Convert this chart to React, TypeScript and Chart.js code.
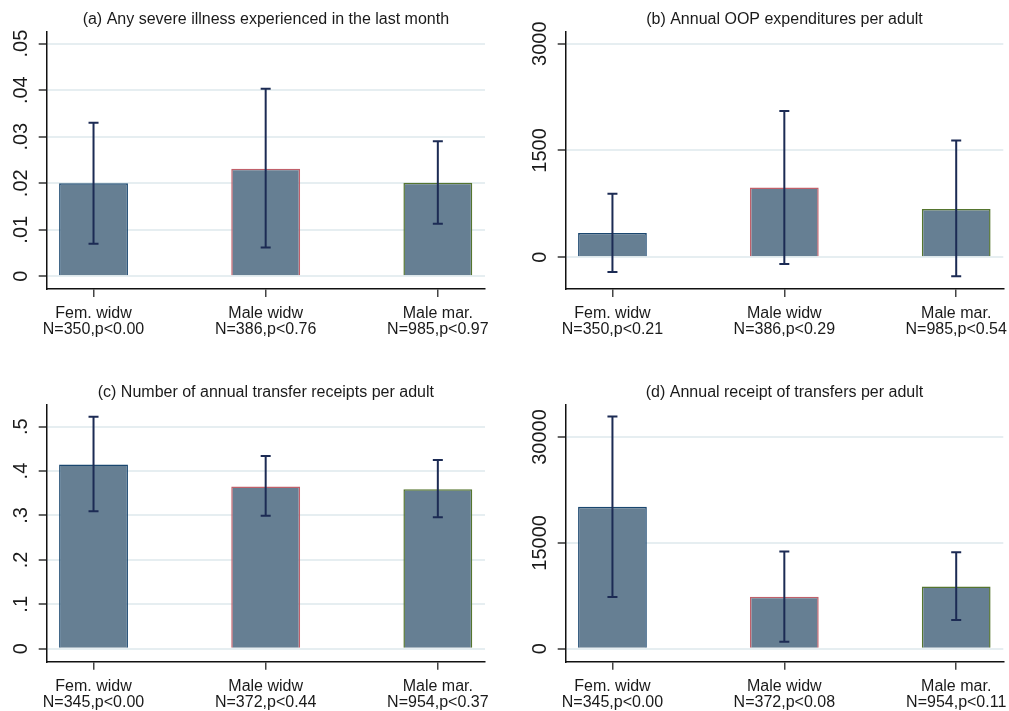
import React, { useEffect, useRef } from 'react';
import { Chart, registerables } from 'chart.js';

Chart.register(...registerables);

const FONT = "'Liberation Sans', Arial, sans-serif";

// ---------- data ----------
const CATEGORIES = ['Fem. widw', 'Male widw', 'Male mar.'];

const A_TITLE = '(a) Any severe illness experienced in the last month';
const A_NLABELS = ['N=350,p<0.00', 'N=386,p<0.76', 'N=985,p<0.97'];
const A_MEAN = [0.02, 0.0231, 0.0201];
const A_LO = [0.007, 0.0062, 0.0113];
const A_HI = [0.033, 0.0403, 0.029];
const A_TICKS = [0, 0.01, 0.02, 0.03, 0.04, 0.05];
const A_TICK_LABELS = ['0', '.01', '.02', '.03', '.04', '.05'];
const A_RANGE = [-0.00273, 0.0525];

const B_TITLE = '(b) Annual OOP expenditures per adult';
const B_NLABELS = ['N=350,p<0.21', 'N=386,p<0.29', 'N=985,p<0.54'];
const B_MEAN = [341, 981, 677];
const B_LO = [-206, -94, -266];
const B_HI = [892, 2055, 1640];
const B_TICKS = [0, 1500, 3000];
const B_TICK_LABELS = ['0', '1500', '3000'];
const B_RANGE = [-445, 3164];

const C_TITLE = '(c) Number of annual transfer receipts per adult';
const C_NLABELS = ['N=345,p<0.00', 'N=372,p<0.44', 'N=954,p<0.37'];
const C_MEAN = [0.415, 0.365, 0.359];
const C_LO = [0.3095, 0.2995, 0.296];
const C_HI = [0.5225, 0.434, 0.425];
const C_TICKS = [0, 0.1, 0.2, 0.3, 0.4, 0.5];
const C_TICK_LABELS = ['0', '.1', '.2', '.3', '.4', '.5'];
const C_RANGE = [-0.0293, 0.5504];

const D_TITLE = '(d) Annual receipt of transfers per adult';
const D_NLABELS = ['N=345,p<0.00', 'N=372,p<0.08', 'N=954,p<0.11'];
const D_MEAN = [20107, 7379, 8798];
const D_LO = [7336, 993, 4073];
const D_HI = [32921, 13764, 13679];
const D_TICKS = [0, 15000, 30000];
const D_TICK_LABELS = ['0', '15000', '30000'];
const D_RANGE = [-1845, 34640];

// ---------- styles ----------
const BAR_FILL = '#667f93';
const BAR_BORDERS = ['#1a476f', '#c0606a', '#55752f'];
const ERR_COLOR = '#1c2b54';
const GRID_COLOR = '#e6eef1';

type Spec = {
  title: string;
  nlabels: string[];
  mean: number[];
  lo: number[];
  hi: number[];
  ticks: number[];
  tickLabels: string[];
  range: number[];
  box: { left: number; top: number; width: number; height: number };
  area: { left: number; right: number; top: number; bottom: number };
  titleY: number;
};

const X_AXIS_H = 50;

function makePanel(spec: Spec) {
  const { box, area } = spec;
  const errorBars = {
    id: 'errorBars',
    afterDatasetsDraw(chart: any) {
      const ctx = chart.ctx;
      const xs = chart.scales.x;
      const ys = chart.scales.y;
      ctx.save();
      ctx.strokeStyle = ERR_COLOR;
      ctx.lineWidth = 2;
      spec.lo.forEach((lo, i) => {
        const x = xs.getPixelForValue(i);
        const y1 = ys.getPixelForValue(lo);
        const y2 = ys.getPixelForValue(spec.hi[i]);
        ctx.beginPath();
        ctx.moveTo(x, y1);
        ctx.lineTo(x, y2);
        ctx.moveTo(x - 5, y1);
        ctx.lineTo(x + 5, y1);
        ctx.moveTo(x - 5, y2);
        ctx.lineTo(x + 5, y2);
        ctx.stroke();
      });
      ctx.restore();
    },
  };
  const texts = {
    id: 'texts',
    afterDraw(chart: any) {
      const ctx = chart.ctx;
      const ca = chart.chartArea;
      const ys = chart.scales.y;
      ctx.save();
      ctx.fillStyle = '#1a1a1a';
      ctx.font = `16px ${FONT}`;
      ctx.textAlign = 'center';
      ctx.textBaseline = 'middle';
      ctx.fillText(spec.title, (ca.left + ca.right) / 2, spec.titleY);
      ctx.font = `20px ${FONT}`;
      spec.ticks.forEach((v, i) => {
        const y = ys.getPixelForValue(v);
        ctx.save();
        ctx.translate(ca.left - 25.7, y);
        ctx.rotate(-Math.PI / 2);
        ctx.fillText(spec.tickLabels[i], 0, 0);
        ctx.restore();
      });
      ctx.restore();
    },
  };
  const config: any = {
    type: 'bar',
    data: {
      datasets: [
        {
          data: spec.mean.map((v, i) => ({ x: i, y: v })),
          backgroundColor: BAR_FILL,
          borderColor: BAR_BORDERS,
          borderWidth: 1.5,
          barPercentage: 0.4,
          categoryPercentage: 1,
        },
      ],
    },
    options: {
      animation: false,
      responsive: false,
      devicePixelRatio: 1,
      layout: {
        padding: {
          left: 0,
          top: area.top,
          right: box.width - area.right,
          bottom: box.height - area.bottom - X_AXIS_H,
        },
      },
      plugins: { legend: { display: false }, tooltip: { enabled: false }, title: { display: false } },
      scales: {
        x: {
          type: 'linear',
          offset: false,
          min: -0.272,
          max: 2.274,
          afterBuildTicks: (s: any) => {
            s.ticks = [0, 1, 2].map((v) => ({ value: v }));
          },
          afterFit: (s: any) => {
            s.height = X_AXIS_H;
            s.paddingLeft = 0;
            s.paddingRight = 0;
          },
          grid: { offset: false, drawOnChartArea: false, drawTicks: true, tickLength: 8, tickColor: '#444', lineWidth: 1.5 },
          border: { display: true, color: '#111', width: 1.5 },
          ticks: {
            autoSkip: false,
            maxRotation: 0,
            minRotation: 0,
            padding: 9,
            color: '#1a1a1a',
            font: { family: FONT, size: 16, lineHeight: 1.0 },
            callback: (v: number) => [CATEGORIES[v], spec.nlabels[v]],
          },
        },
        y: {
          type: 'linear',
          min: spec.range[0],
          max: spec.range[1],
          afterBuildTicks: (s: any) => {
            s.ticks = spec.ticks.map((v) => ({ value: v }));
          },
          afterFit: (s: any) => {
            s.width = area.left;
            s.paddingTop = 0;
            s.paddingBottom = 0;
          },
          grid: { color: GRID_COLOR, lineWidth: 2, drawTicks: true, tickLength: 8, tickColor: '#666' },
          border: { display: true, color: '#111', width: 1.5 },
          ticks: { color: 'rgba(0,0,0,0)', font: { family: FONT, size: 20 }, callback: () => '' },
        },
      },
    },
    plugins: [errorBars, texts],
  };
  return config;
}

function Panel({ spec }: { spec: Spec }) {
  const ref = useRef<HTMLCanvasElement>(null);
  useEffect(() => {
    const chart = new Chart(ref.current as HTMLCanvasElement, makePanel(spec));
    return () => chart.destroy();
  }, []);
  const { box } = spec;
  return (
    <canvas
      ref={ref}
      width={box.width}
      height={box.height}
      style={{ position: 'absolute', left: box.left, top: box.top, width: box.width, height: box.height }}
    />
  );
}

const LEFT_AREA = { left: 46.7, right: 485 };
const RIGHT_AREA = { left: 61.7, right: 499.3 };

const SPECS: Spec[] = [
  {
    title: A_TITLE, nlabels: A_NLABELS, mean: A_MEAN, lo: A_LO, hi: A_HI, ticks: A_TICKS, tickLabels: A_TICK_LABELS, range: A_RANGE,
    box: { left: 0, top: 0, width: 504, height: 355 },
    area: { ...LEFT_AREA, top: 32, bottom: 289 },
    titleY: 20,
  },
  {
    title: B_TITLE, nlabels: B_NLABELS, mean: B_MEAN, lo: B_LO, hi: B_HI, ticks: B_TICKS, tickLabels: B_TICK_LABELS, range: B_RANGE,
    box: { left: 504, top: 0, width: 505, height: 355 },
    area: { ...RIGHT_AREA, top: 32, bottom: 289 },
    titleY: 20,
  },
  {
    title: C_TITLE, nlabels: C_NLABELS, mean: C_MEAN, lo: C_LO, hi: C_HI, ticks: C_TICKS, tickLabels: C_TICK_LABELS, range: C_RANGE,
    box: { left: 0, top: 355, width: 504, height: 356 },
    area: { ...LEFT_AREA, top: 49.3, bottom: 306.7 },
    titleY: 37.5,
  },
  {
    title: D_TITLE, nlabels: D_NLABELS, mean: D_MEAN, lo: D_LO, hi: D_HI, ticks: D_TICKS, tickLabels: D_TICK_LABELS, range: D_RANGE,
    box: { left: 504, top: 355, width: 505, height: 356 },
    area: { ...RIGHT_AREA, top: 49.3, bottom: 306.7 },
    titleY: 37.5,
  },
];

export default function App() {
  return (
    <div style={{ position: 'fixed', left: 0, top: 0, width: 1009, height: 711, background: '#fff' }}>
      {SPECS.map((s, i) => (
        <Panel key={i} spec={s} />
      ))}
    </div>
  );
}
